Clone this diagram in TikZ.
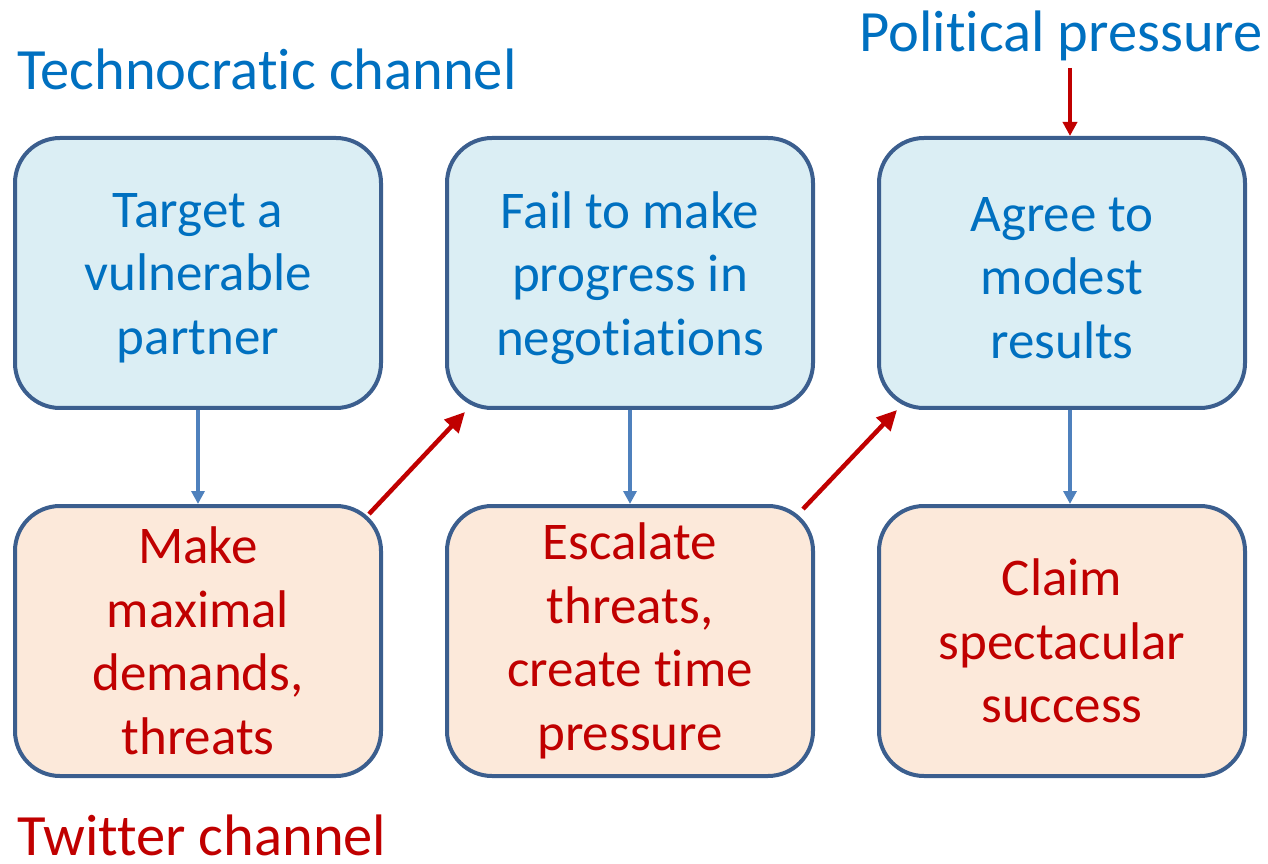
\documentclass[tikz,border=0pt]{standalone}
\usepackage{fontspec}
\setmainfont{Carlito}[Ligatures={NoCommon,NoContextual}, Contextuals=NoAlternate]
\usetikzlibrary{arrows.meta}
\definecolor{techblue}{HTML}{0070C0}
\definecolor{twitred}{HTML}{C00000}
\definecolor{boxline}{HTML}{3B5E8E}
\definecolor{techfill}{HTML}{DBEEF4}
\definecolor{twitfill}{HTML}{FCE9DA}
\definecolor{flowblue}{HTML}{4F81BD}
\tikzset{
  boxfont/.style={font=\fontsize{53}{63.5}\selectfont, align=center},
  stage/.style={draw=boxline, line width=4pt, rounded corners=45pt,
    minimum width=366pt, minimum height=270pt, inner sep=0pt, boxfont},
  techbox/.style={stage, fill=techfill, text=techblue},
  twitbox/.style={stage, fill=twitfill, text=twitred},
  techtext/.style={boxfont, text=techblue, inner sep=0pt, yshift=-5pt},
  heading/.style={inner sep=0pt, font=\fontsize{58.5}{70}\selectfont},
  downflow/.style={draw=flowblue, line width=4pt,
    -{Triangle[length=13pt, width=13pt]}},
  pushflow/.style={draw=twitred, line width=4.5pt,
    -{Triangle[length=20pt, width=19pt]}}
}
\begin{document}
\begin{tikzpicture}[x=1pt, y=1pt]
\useasboundingbox (0,0) rectangle (1268,863);

% headings
\node[heading, text=techblue, anchor=base west] (tech) at (17,773) {Technocratic channel};
\node[heading, text=techblue, anchor=base east] (pol) at (1263,811) {Political pressure};
\node[heading, text=twitred, anchor=base west] (twit) at (17,8) {Twitter channel};

% technocratic row
\node[techbox, label={[techtext]center:{Target a\\vulnerable\\partner}}] (t1) at (198,590) {};
\node[techbox, label={[techtext]center:{Fail to make\\progress in\\negotiations}}] (t2) at (630,590) {};
\node[techbox, label={[techtext]center:{Agree to\\modest\\results}}] (t3) at (1062,590) {};

% twitter row
\node[twitbox] (w1) at (198,222) {Make\\maximal\\demands,\\threats};
\node[twitbox] (w2) at (630,222) {Escalate\\threats,\\create time\\pressure};
\node[twitbox] (w3) at (1062,222) {Claim\\spectacular\\success};

% vertical links
\draw[downflow] (t1.south) -- (w1.north);
\draw[downflow] (t2.south) -- (w2.north);
\draw[downflow] ([xshift=8pt]t3.south) -- ([xshift=8pt]w3.north);

% diagonal links
\draw[pushflow] (w1.north east) ++(-14pt,-10pt) coordinate (a1) -- ([xshift=20pt,yshift=-2pt]t2.south west);
\draw[pushflow] (w2.north east) ++(-12pt,-5pt) coordinate (a2) -- ([xshift=20pt,yshift=0pt]t3.south west);

% political pressure input
\coordinate (p0) at (1070,795);
\draw[pushflow, line width=3.5pt, -{Triangle[length=14pt, width=14pt]}] (p0) -- ([xshift=8pt]t3.north);
\end{tikzpicture}
\end{document}
